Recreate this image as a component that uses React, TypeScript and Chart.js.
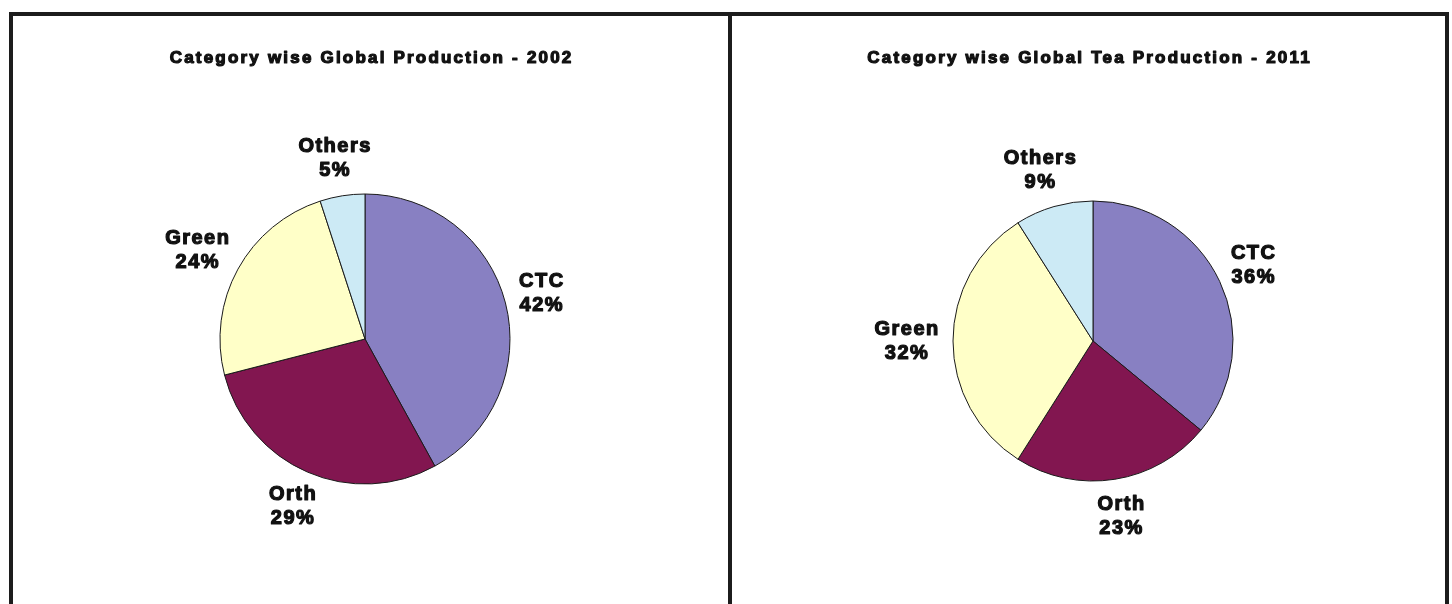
import React, { useEffect, useRef } from "react";
import { Chart, registerables } from "chart.js";

Chart.register(...registerables);

const categories = ["CTC", "Orth", "Green", "Others"];
const values2002 = [42, 29, 24, 5];
const values2011 = [36, 23, 32, 9];
const title2002 = "Category wise Global Production - 2002";
const title2011 = "Category wise Global Tea Production - 2011";
const sliceColors = ["#8880C2", "#821650", "#FFFFC8", "#CCEAF5"];

const FONT = '"Liberation Sans", Arial, Helvetica, sans-serif';

function drawText(ctx: any, text: string, x: number, y: number, spacing: number) {
  const sx = x + spacing / 2;
  ctx.strokeText(text, sx, y);
  ctx.fillText(text, sx, y);
}

function makeLabelPlugin(title: string) {
  return {
    id: "pieLabels",
    afterDatasetsDraw(chart: any) {
      const ctx = chart.ctx;
      const meta = chart.getDatasetMeta(0);
      const ds = chart.data.datasets[0];
      const labels = chart.data.labels;
      ctx.save();
      ctx.fillStyle = "#111";
      ctx.strokeStyle = "#111";
      ctx.lineWidth = 1.2;
      ctx.lineJoin = "round";
      ctx.textAlign = "center";
      ctx.textBaseline = "middle";

      // title
      const tSp = 2.2;
      ctx.font = `bold 17px ${FONT}`;
      (ctx as any).letterSpacing = `${tSp}px`;
      drawText(ctx, title, chart.width / 2, 42, tSp);

      // slice labels
      const lSp = 1.5;
      ctx.font = `bold 20px ${FONT}`;
      (ctx as any).letterSpacing = `${lSp}px`;
      const lh = 24;
      meta.data.forEach((arc: any, i: number) => {
        const p = arc.getProps(["x", "y", "startAngle", "endAngle", "outerRadius"], true);
        const mid = (p.startAngle + p.endAngle) / 2;
        const dx = Math.cos(mid);
        const dy = Math.sin(mid);
        const l1 = String(labels[i]);
        const l2 = `${ds.data[i]}%`;
        const w = Math.max(ctx.measureText(l1).width, ctx.measureText(l2).width);
        const h = lh * 2;
        const d = 14;
        const cx = p.x + dx * (p.outerRadius + d) + (dx * w) / 2;
        const cy = p.y + dy * (p.outerRadius + d) + (dy * h) / 2;
        drawText(ctx, l1, cx, cy - lh / 2, lSp);
        drawText(ctx, l2, cx, cy + lh / 2, lSp);
      });
      ctx.restore();
    },
  };
}

function PieChart(props: {
  values: number[];
  title: string;
  width: number;
  height: number;
  padding: { left: number; right: number; top: number; bottom: number };
}) {
  const ref = useRef<HTMLCanvasElement | null>(null);
  useEffect(() => {
    if (!ref.current) return;
    const chart = new Chart(ref.current, {
      type: "pie",
      data: {
        labels: categories,
        datasets: [
          {
            data: props.values,
            backgroundColor: sliceColors,
            borderColor: "#1a1a1a",
            borderWidth: 1,
          },
        ],
      },
      options: {
        animation: false,
        responsive: false,
        maintainAspectRatio: false,
        layout: { padding: props.padding },
        plugins: {
          legend: { display: false },
          tooltip: { enabled: false },
          title: { display: false },
        },
      },
      plugins: [makeLabelPlugin(props.title)],
    } as any);
    return () => chart.destroy();
  }, []);
  return (
    <canvas
      ref={ref}
      width={props.width}
      height={props.height}
      style={{ width: props.width, height: props.height, display: "block" }}
    />
  );
}

export default function App() {
  const border = "4px solid #1c1c1c";
  return (
    <div
      style={{
        position: "fixed",
        left: 0,
        top: 0,
        width: 1452,
        height: 604,
        background: "#ffffff",
        overflow: "hidden",
      }}
    >
      <div
        style={{
          position: "absolute",
          left: 9,
          top: 12,
          width: 723,
          height: 640,
          boxSizing: "border-box",
          border,
        }}
      />
      <div
        style={{
          position: "absolute",
          left: 728,
          top: 12,
          width: 721,
          height: 640,
          boxSizing: "border-box",
          border,
        }}
      />
      <div style={{ position: "absolute", left: 13, top: 16 }}>
        <PieChart
          values={values2002}
          title={title2002}
          width={715}
          height={588}
          padding={{ left: 206.5, right: 217.5, top: 177.5, bottom: 119.5 }}
        />
      </div>
      <div style={{ position: "absolute", left: 732, top: 16 }}>
        <PieChart
          values={values2011}
          title={title2011}
          width={713}
          height={588}
          padding={{ left: 220.5, right: 211.5, top: 184.5, bottom: 122.5 }}
        />
      </div>
    </div>
  );
}
